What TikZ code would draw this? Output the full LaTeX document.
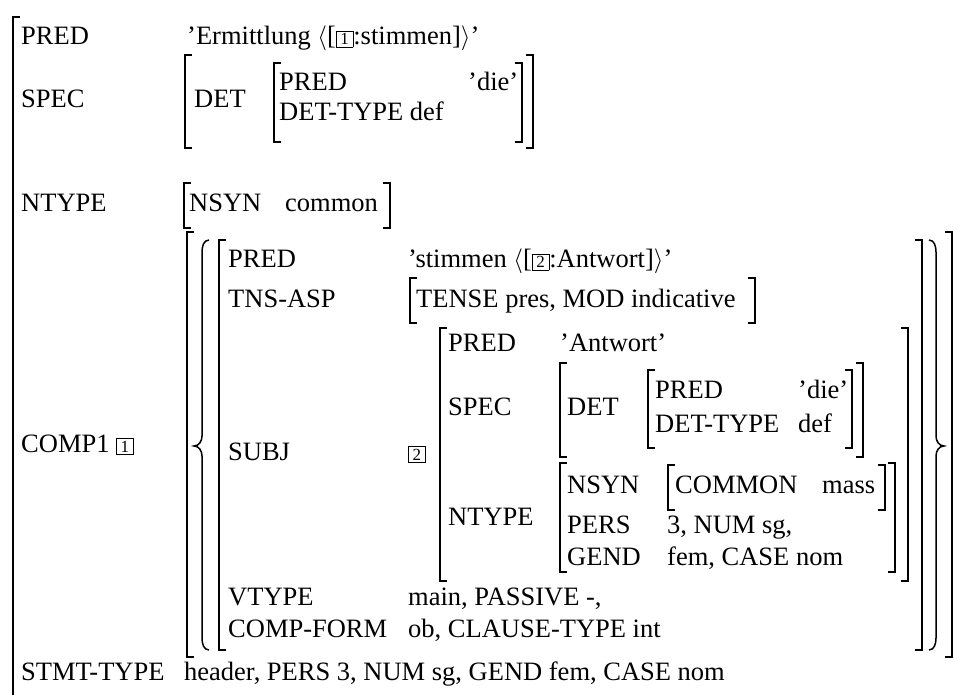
\documentclass[tikz,border=0pt]{standalone}
\usepackage{fontspec}
\setmainfont{Liberation Serif}
\usepackage{tikz}
\newcommand{\tagbox}[1]{{\setlength{\fboxsep}{2pt}\setlength{\fboxrule}{0.7pt}\fbox{\makebox[12pt]{\fontsize{17}{17}\selectfont #1}}}}

\begin{document}
\begin{tikzpicture}[
  x=1pt, y=-1pt,
  feat/.style={anchor=base west, inner sep=0pt, font=\fontsize{26.5}{32}\selectfont},
  brk/.style={line width=1.1pt},
  tall/.style={line width=1.5pt}]
  \useasboundingbox (0,0) rectangle (954,695);
  \node[feat] (pred) at (21,45) {PRED};
  \node[feat] (predv) at (187,45) {'Ermittlung $\langle$[\tagbox{1}:stimmen]$\rangle$'};
  \node[feat] (spec) at (21,108) {SPEC};
  \node[feat] (det) at (194,108) {DET};
  \node[feat] (dpred) at (279,91) {PRED};
  \node[feat] (dpredv) at (468,91) {'die'};
  \node[feat] (dtype) at (279,121) {DET-TYPE def};
  \node[feat] (ntype) at (21,212) {NTYPE};
  \node[feat] (nsyn) at (189,212) {NSYN};
  \node[feat] (nsynv) at (285,212) {common};
  \node[feat] (comp) at (21,452) {COMP1 \tagbox{1}};
  \node[feat] (cpred) at (228,268) {PRED};
  \node[feat] (cpredv) at (408,268) {'stimmen $\langle$[\tagbox{2}:Antwort]$\rangle$'};
  \node[feat] (tns) at (228,308) {TNS-ASP};
  \node[feat] (tnsv) at (416,308) {TENSE pres, MOD indicative};
  \node[feat] (subj) at (228,460) {SUBJ};
  \node[feat] (stag) at (408,460) {\tagbox{2}};
  \node[feat] (spred) at (448,352) {PRED};
  \node[feat] (spredv) at (560,352) {'Antwort'};
  \node[feat] (sspec) at (448,415) {SPEC};
  \node[feat] (sdet) at (567,415) {DET};
  \node[feat] (sdpred) at (655,399) {PRED};
  \node[feat] (sdpredv) at (798,399) {'die'};
  \node[feat] (sdtype) at (655,432) {DET-TYPE};
  \node[feat] (sdtypev) at (798,432) {def};
  \node[feat] (sntype) at (448,525) {NTYPE};
  \node[feat] (snsyn) at (567,493) {NSYN};
  \node[feat] (scommon) at (675,493) {COMMON};
  \node[feat] (smass) at (822,493) {mass};
  \node[feat] (spers) at (567,533) {PERS};
  \node[feat] (spersv) at (667,533) {3, NUM sg,};
  \node[feat] (sgend) at (567,565) {GEND};
  \node[feat] (sgendv) at (667,565) {fem, CASE nom};
  \node[feat] (vtype) at (228,605) {VTYPE};
  \node[feat] (vtypev) at (408,605) {main, PASSIVE -,};
  \node[feat] (cform) at (228,637) {COMP-FORM};
  \node[feat] (cformv) at (408,637) {ob, CLAUSE-TYPE int};
  \node[feat] (stmt) at (21,680) {STMT-TYPE};
  \node[feat] (stmtv) at (184,680) {header, PERS 3, NUM sg, GEND fem, CASE nom};
  \draw[tall] (20,17) -- (13,17) -- (13,695);
  \draw[brk] (192,55) -- (185,55) -- (185,148) -- (192,148);
  \draw[brk] (281,63) -- (274,63) -- (274,142) -- (281,142);
  \draw[brk] (515,63) -- (522,63) -- (522,142) -- (515,142);
  \draw[brk] (526,55) -- (533,55) -- (533,148) -- (526,148);
  \draw[brk] (191,183) -- (184,183) -- (184,228) -- (191,228);
  \draw[brk] (383,183) -- (390,183) -- (390,228) -- (383,228);
  \draw[tall] (194,232) -- (187,232) -- (187,657) -- (194,657);
  \draw[tall] (209,240) to[out=180,in=90] (202,252) -- (202,436)
    to[out=-90,in=0] (194,446) to[out=0,in=90] (202,456) -- (202,638)
    to[out=-90,in=180] (209,650);
  \draw[tall] (226,240) -- (219,240) -- (219,650) -- (226,650);
  \draw[brk] (417,278) -- (410,278) -- (410,323) -- (417,323);
  \draw[brk] (748,278) -- (755,278) -- (755,323) -- (748,323);
  \draw[brk] (447,328) -- (440,328) -- (440,581) -- (447,581);
  \draw[brk] (567,363) -- (560,363) -- (560,457) -- (567,457);
  \draw[brk] (655,370) -- (648,370) -- (648,448) -- (655,448);
  \draw[brk] (845,370) -- (852,370) -- (852,448) -- (845,448);
  \draw[brk] (856,363) -- (863,363) -- (863,457) -- (856,457);
  \draw[brk] (567,463) -- (560,463) -- (560,572) -- (567,572);
  \draw[brk] (675,465) -- (668,465) -- (668,510) -- (675,510);
  \draw[brk] (878,465) -- (885,465) -- (885,510) -- (878,510);
  \draw[brk] (888,463) -- (895,463) -- (895,572) -- (888,572);
  \draw[brk] (901,328) -- (908,328) -- (908,581) -- (901,581);
  \draw[tall] (915,240) -- (922,240) -- (922,650) -- (915,650);
  \draw[tall] (929,240) to[out=0,in=90] (936,252) -- (936,436)
    to[out=-90,in=180] (944,446) to[out=180,in=90] (936,456) -- (936,638)
    to[out=-90,in=0] (929,650);
  \draw[tall] (945,232) -- (952,232) -- (952,657) -- (945,657);
\end{tikzpicture}
\end{document}
